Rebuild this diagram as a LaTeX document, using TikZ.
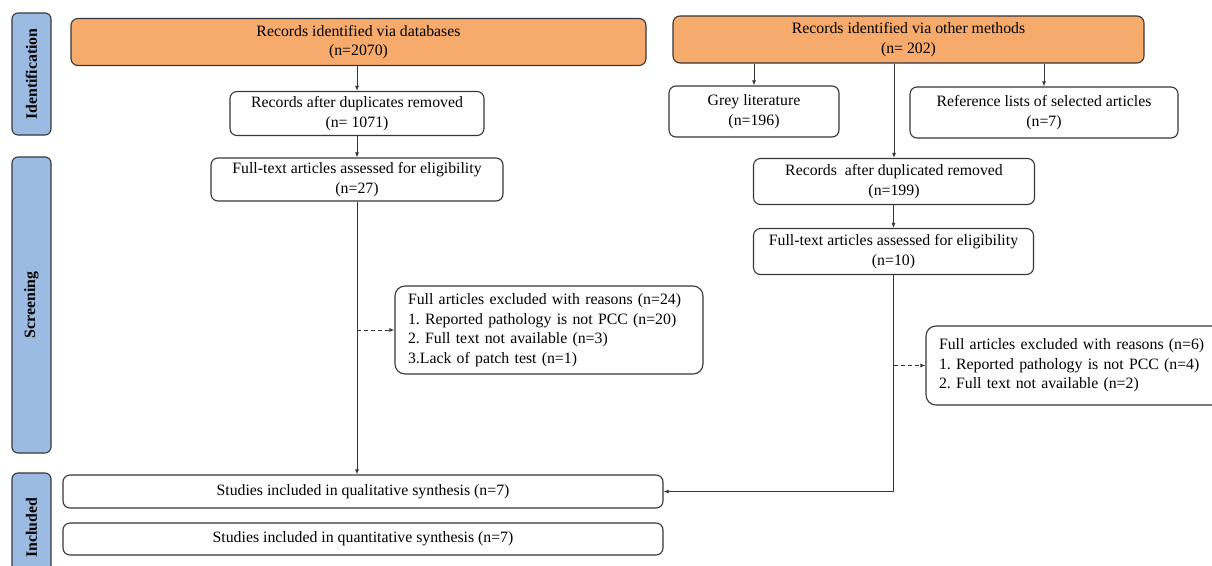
\documentclass[tikz,border=0pt]{standalone}
\usepackage{fontspec}
\setmainfont{Liberation Serif}
\usetikzlibrary{arrows.meta}
\definecolor{orangefill}{RGB}{246,170,108}
\definecolor{bluefill}{RGB}{155,187,226}
\definecolor{edgegray}{RGB}{55,55,55}
\frenchspacing
\begin{document}
\begin{tikzpicture}[x=1pt,y=-1pt,
  every node/.style={font=\fontsize{15.8}{19.5}\selectfont, text=black},
  box/.style={draw=edgegray, line width=1.1pt, rounded corners=7pt, align=center, inner sep=0pt, fill=white},
  obox/.style={box, fill=orangefill},
  exbox/.style={draw=edgegray, line width=1.1pt, rounded corners=10pt, align=left, inner xsep=13pt, inner ysep=0pt, fill=white},
  sidebar/.style={draw=edgegray, line width=1.1pt, rounded corners=6pt, fill=bluefill, inner sep=0pt, minimum width=39pt},
  sidetext/.style={font=\fontsize{15.8}{17}\selectfont\bfseries, rotate=90},
  arr/.style={draw=edgegray, line width=1pt, -{Latex[length=5pt,width=4pt]}},
  darr/.style={arr, dashed, dash pattern=on 4pt off 3pt}
]
\useasboundingbox (0,0) rectangle (1212,565);
\fill[white] (0,0) rectangle (1212,565);

% side bars
\node[sidebar, minimum height=122pt] (idbar) at (31.5,74) {};
\node[sidetext] (idtxt) at (idbar.center) {Identification};
\node[sidebar, minimum height=296pt] (scbar) at (31.5,305) {};
\node[sidetext] (sctxt) at (scbar.center) {Screening};
\node[sidebar, minimum height=110pt] (inbar) at (31.5,528) {};
\node[sidetext] (intxt) at (31.5,528) {Included};

% left branch
\node[obox, minimum width=575pt, minimum height=47pt] (db) at (358.5,42) {Records identified via databases\\(n=2070)};
\node[box, minimum width=254pt, minimum height=44pt] (dup1) at (357,113.5) {Records after duplicates removed\\(n= 1071)};
\node[box, minimum width=292pt, minimum height=43pt] (ft1) at (357,179.5) {Full-text articles assessed for eligibility\\(n=27)};
\node[exbox, text width=282pt, minimum height=88pt] (ex1) at (549,330) {Full articles excluded with reasons (n=24)\\1. Reported pathology is not PCC (n=20)\\2. Full text not available (n=3)\\3.Lack of patch test (n=1)};

% right branch
\node[obox, minimum width=471pt, minimum height=47pt] (oth) at (908.5,39.5) {Records identified via other methods\\(n= 202)};
\node[box, minimum width=170pt, minimum height=51pt] (grey) at (754,111.5) {Grey literature\\(n=196)};
\node[box, minimum width=268pt, minimum height=51pt] (ref) at (1044,112.5) {Reference lists of selected articles\\(n=7)};
\node[box, minimum width=281pt, minimum height=46pt] (dup2) at (894,181.5) {Records\ \ after duplicated removed\\(n=199)};
\node[box, minimum width=280pt, minimum height=46pt] (ft2) at (893.5,251.5) {Full-text articles assessed for eligibility\\(n=10)};
\node[exbox, text width=278pt, minimum height=79pt] (ex2) at (1078,365.5) {Full articles excluded with reasons (n=6)\\1. Reported pathology is not PCC (n=4)\\2. Full text not available (n=2)};

% included
\node[box, minimum width=600pt, minimum height=33pt] (qual) at (363,491.5) {Studies included in qualitative synthesis (n=7)};
\node[box, minimum width=600pt, minimum height=32pt] (quan) at (363,539) {Studies included in quantitative synthesis (n=7)};

% connectors
\draw[arr] (db.south -| dup1.north) -- (dup1.north);
\draw[arr] (dup1.south) -- (ft1.north);
\draw[arr] (ft1.south) -- (ft1.south |- qual.north);
\draw[darr] (ft1.south |- ex1.west) -- (ex1.west);

\draw[arr] (oth.south -| grey.north) -- (grey.north);
\draw[arr] (oth.south -| ref.north) -- (ref.north);
\draw[arr] (oth.south -| dup2.north) -- (dup2.north);
\draw[arr] (dup2.south -| ft2.north) -- (ft2.north);
\draw[arr] (ft2.south) |- (qual.east);
\draw[darr] (ft2.south |- ex2.west) -- (ex2.west);
\end{tikzpicture}
\end{document}
